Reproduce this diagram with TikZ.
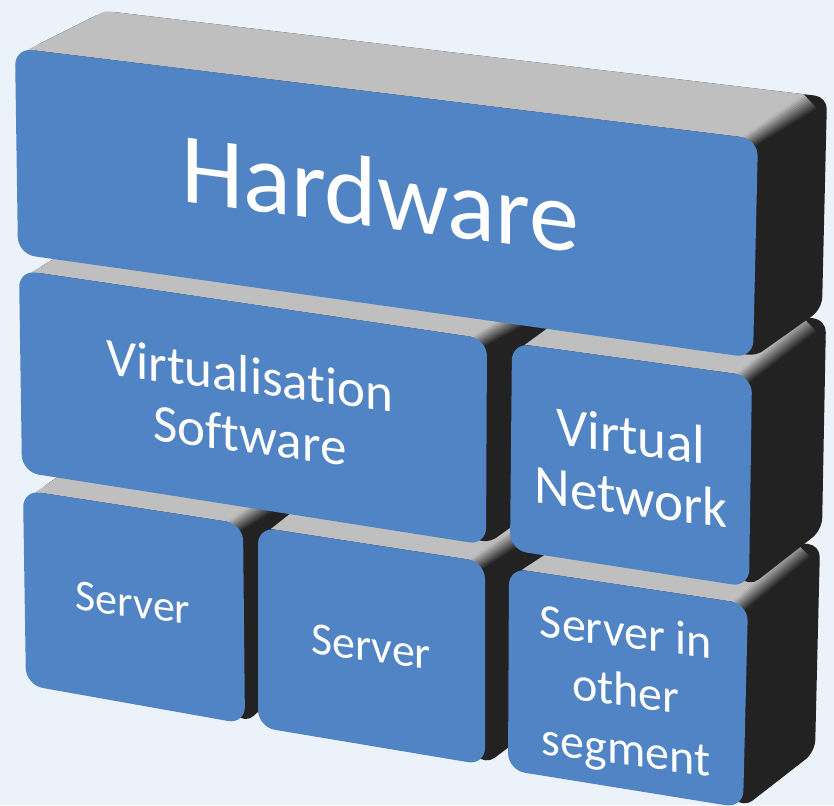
\documentclass[tikz,border=0pt]{standalone}
\usepackage{fontspec}
\setmainfont[Ligatures=NoCommon]{Carlito}
\usepackage{tikz}
\usetikzlibrary{calc}
\definecolor{backcol}{HTML}{ECF2F9}
\definecolor{facecol}{HTML}{5184C4}
\definecolor{topcol}{HTML}{BFBFBF}
\definecolor{sidecol}{HTML}{222222}
\tikzstyle{every picture}=[x=1pt,y=-1pt]
\tikzstyle{blocktext}=[text=white,align=center,inner sep=0pt,yslant=-0.13,transform shape]
% front: top left, top right, bottom right, bottom left; back: top left, top right, bottom right
\newcommand{\brick}[7]{
\coordinate (ftl) at #1;
\coordinate (ftr) at #2;
\coordinate (fbr) at #3;
\coordinate (fbl) at #4;
\coordinate (btl) at #5;
\coordinate (btr) at #6;
\coordinate (bbr) at #7;
\coordinate (es) at ($(ftl)!13pt!(ftr)$);
\coordinate (ea) at ($(ftr)!16pt!(ftl)$);
\coordinate (eb) at ($(ftr)!18pt!(fbr)$);
\coordinate (ec) at ($(btr)!24pt!(btl)$);
\coordinate (ed) at ($(btr)!22pt!(bbr)$);
\fill[sidecol,rounded corners=12pt] (es) -- (btl) -- (btr) -- (bbr) -- (fbr) -- cycle;
\fill[topcol] (es) [rounded corners=4pt] -- (btl) [sharp corners] -- (ec) -- (ea) -- cycle;
\foreach \p in {0,5,...,95} {
\pgfmathsetmacro{\q}{\p+5}
\pgfmathsetmacro{\m}{min(100,1.7*\p)}
\filldraw[draw=sidecol!\m!topcol,fill=sidecol!\m!topcol,line width=0.3pt]
($(ea)!\p/100!(eb)$) -- ($(ea)!\q/100!(eb)$) -- ($(ec)!\q/100!(ed)$) -- ($(ec)!\p/100!(ed)$) -- cycle;
}
\fill[facecol,rounded corners=17pt] (ftl) -- (ftr) -- (fbr) -- (fbl) -- cycle;
}

\begin{document}
\begin{tikzpicture}

\fill[backcol] (0,0) rectangle (834,805);
\useasboundingbox (0,0) rectangle (834,805);

% bottom row
\brick{(23,490)}{(243,524)}{(245,724)}{(26,685)}{(85,458)}{(300,490)}{(292,680)}
\brick{(258,527)}{(485,562)}{(485,765)}{(258,727)}{(320,490)}{(560,515)}{(545,720)}
\brick{(509,568)}{(748,604)}{(743,808)}{(508,770)}{(590,525)}{(820,545)}{(815,752)}

% middle row
\brick{(19,270)}{(487,339)}{(486,545)}{(22,472)}{(90,238)}{(560,300)}{(556,495)}
\brick{(512,343)}{(752,376)}{(749,587)}{(510,550)}{(600,290)}{(826,320)}{(822,530)}

% top row
\brick{(15,48)}{(758,139)}{(753,358)}{(18,254)}{(105,11)}{(827,97)}{(822,309)}

\node[blocktext,font=\fontsize{100}{100}\selectfont] (hardware) at (380,193) {Hardware};
\node[blocktext,font=\fontsize{53}{60}\selectfont] (virtsoft) at (250,405) {Virtualisation\\Software};
\node[blocktext,font=\fontsize{55}{61}\selectfont] (virtnet) at (631,466) {Virtual\\Network};
\node[blocktext,font=\fontsize{44}{50}\selectfont] (serverleft) at (133,603) {Server};
\node[blocktext,font=\fontsize{46}{50}\selectfont] (servermid) at (371,647) {Server};
\node[blocktext,font=\fontsize{48}{59}\selectfont] (serverseg) at (626,694) {Server in\\other\\segment};

\end{tikzpicture}
\end{document}
